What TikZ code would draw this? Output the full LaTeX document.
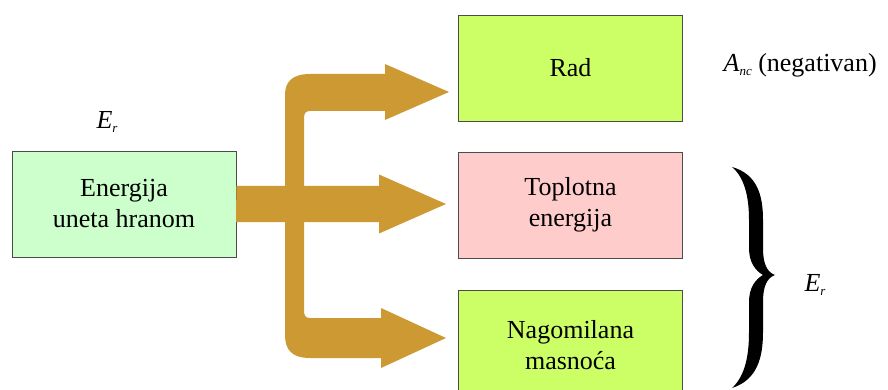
\documentclass[tikz,border=0pt]{standalone}
\usepackage{fontspec}
\setmainfont{Liberation Serif}
\usepackage{tikz}
\usetikzlibrary{positioning}
\definecolor{zlato}{RGB}{204,153,51}
\definecolor{svzelena}{RGB}{204,255,204}
\definecolor{zelena}{RGB}{204,255,102}
\definecolor{roze}{RGB}{255,204,204}
\newcommand{\ind}[2]{\textit{#1}\raisebox{-0.35ex}{\fontsize{13}{13}\selectfont\textit{#2}}}
\tikzset{blok/.style={draw=black!70,line width=0.8pt,minimum width=224pt,minimum height=106pt,align=center,font=\fontsize{26}{31}\selectfont}}

\begin{document}
\begin{tikzpicture}[x=1pt,y=-1pt]
	\useasboundingbox (0,0) rectangle (888,390);
	\node[blok,fill=svzelena] (food) at (124,204) {Energija\\uneta hranom};
	\node[blok,fill=zelena] (rad) at (570.5,68) {Rad};
	\node[blok,fill=roze] (heat) at (570.5,205) {Toplotna\\energija};
	\node[blok,fill=zelena,minimum height=110pt] (fat) at (570.5,345) {Nagomilana\\masnoća};
	\fill[zlato] (food.east) ++(0,-18) -- (379,186) -- (379,174.5) -- (446,204) -- (379,233.5) -- (379,222) -- (236,222) -- cycle;
	\fill[zlato] (310,111) -- (385,111) -- (385,120) -- (449,92) -- (385,64) -- (385,74) -- (310,74) .. controls (292,74) and (285,82) .. (285,95) -- (285,335) .. controls (285,350) and (292,358) .. (310,358) -- (381,358) -- (381,368) -- (446,338) -- (381,308) -- (381,318) -- (310,318) .. controls (305,318) and (304,315) .. (304,310) -- (304,118) .. controls (304,113) and (306,111) .. (310,111) -- cycle;
	\node[font=\fontsize{26}{31}\selectfont] (er1) at (107,122) {\ind{E}{r}};
	\node[font=\fontsize{26}{31}\selectfont,anchor=west] (anc) at (720,65) {\ind{A}{nc} (negativan)};
	\node[font=\fontsize{26}{31}\selectfont] (er2) at (815,285) {\ind{E}{r}};
	\fill (732,167) .. controls (757,174) and (763,195) .. (763,220) -- (763,248) .. controls (763,264) and (767,272) .. (775,275) .. controls (767,278) and (763,286) .. (763,302) -- (763,332) .. controls (763,358) and (757,380) .. (732,388) .. controls (745,376) and (749,356) .. (749,332) -- (749,302) .. controls (749,287) and (756,279) .. (763,275) .. controls (756,271) and (749,263) .. (749,248) -- (749,220) .. controls (749,198) and (745,178) .. (732,167) -- cycle;
\end{tikzpicture}
\end{document}
